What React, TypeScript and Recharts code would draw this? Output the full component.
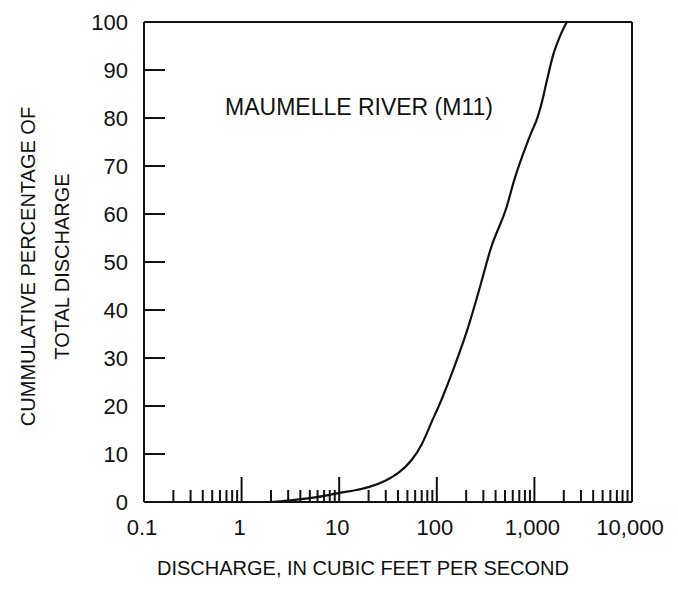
import { LineChart, Line, XAxis, YAxis } from "recharts";

// discharge (cfs) and cumulative percent of total discharge
const discharge = [2, 3, 5, 8, 10, 15, 20, 30, 40, 55, 70, 90, 110, 150, 210, 270, 360, 520, 620, 830, 930, 1050, 1200, 1350, 1550, 1800, 2150];
const cumPercent = [0, 0.3, 0.8, 1.5, 1.9, 2.5, 3.1, 4.5, 6.0, 8.7, 12, 17, 21, 28, 36.5, 44, 53, 61.5, 67, 74.4, 77, 79.5, 83.5, 88, 93, 96.7, 100];

const xMajor = [0.1, 1, 10, 100, 1000, 10000];
const xMinor = [
    0.2, 0.3, 0.4, 0.5, 0.6, 0.7, 0.8, 0.9,
    2, 3, 4, 5, 6, 7, 8, 9,
    20, 30, 40, 50, 60, 70, 80, 90,
    200, 300, 400, 500, 600, 700, 800, 900,
    2000, 3000, 4000, 5000, 6000, 7000, 8000, 9000
];
const xLabels = ["0.1", "1", "10", "100", "1,000", "10,000"];
const yTicks = [0, 10, 20, 30, 40, 50, 60, 70, 80, 90, 100];

const ink = "#111";
const font = "'Liberation Sans', Arial, Helvetica, sans-serif";

const data = discharge.map((q, i) => ({ q, pct: cumPercent[i] }));

const BottomTick = ({ x, y, payload }) => {
    const i = xMajor.indexOf(payload.value);
    const len = i >= 0 ? 25 : 12;
    return (
        <g>
            <line x1={x} y1={y} x2={x} y2={y - len} stroke={ink} strokeWidth={2} />
            {i >= 0 && (
                <text x={x - 2} y={y + 33} textAnchor="middle" fontSize={22} fill={ink} fontFamily={font}>
                    {xLabels[i]}
                </text>
            )}
        </g>
    );
};

const TopTick = ({ x, y, payload }) => {
    const len = xMajor.includes(payload.value) ? 26 : 12;
    return <line x1={x} y1={y} x2={x} y2={y + len} stroke={ink} strokeWidth={2} />;
};

const LeftTick = ({ x, y, payload }) => {
    const v = payload.value;
    return (
        <g>
            {v > 0 && v < 100 && <line x1={x} y1={y} x2={x + 21} y2={y} stroke={ink} strokeWidth={2} />}
            <text x={x - 16} y={y} dy="0.36em" textAnchor="end" fontSize={22} fill={ink} fontFamily={font}>
                {v}
            </text>
        </g>
    );
};

const RightTick = ({ x, y, payload }) => {
    const v = payload.value;
    if (v <= 0 || v >= 100) return <g />;
    return <line x1={x} y1={y} x2={x - 20} y2={y} stroke={ink} strokeWidth={2} />;
};

const App = () => {
    const axisLine = { stroke: ink, strokeWidth: 2 };
    return (
        <div style={{ position: "relative", width: 662, height: 576, fontFamily: font, color: ink }}>
            <LineChart width={662} height={576} data={data} margin={{ top: 4, right: 28, bottom: 22, left: 76 }}>
                <XAxis
                    xAxisId="b"
                    dataKey="q"
                    type="number"
                    scale="log"
                    domain={[0.1, 10000]}
                    allowDataOverflow
                    ticks={[...xMajor, ...xMinor]}
                    interval={0}
                    tickSize={0}
                    tickMargin={0}
                    tickLine={false}
                    tick={BottomTick}
                    axisLine={axisLine}
                    height={60}
                />
                <XAxis
                    xAxisId="t"
                    orientation="top"
                    type="number"
                    scale="log"
                    domain={[0.1, 10000]}
                    allowDataOverflow
                    ticks={[...xMajor, ...xMinor]}
                    interval={0}
                    tickSize={0}
                    tickMargin={0}
                    tickLine={false}
                    tick={TopTick}
                    axisLine={axisLine}
                    height={10}
                />
                <YAxis
                    yAxisId="l"
                    type="number"
                    domain={[0, 100]}
                    ticks={yTicks}
                    interval={0}
                    tickSize={0}
                    tickMargin={0}
                    tickLine={false}
                    tick={LeftTick}
                    axisLine={axisLine}
                    width={60}
                />
                <YAxis
                    yAxisId="r"
                    orientation="right"
                    type="number"
                    domain={[0, 100]}
                    ticks={yTicks}
                    interval={0}
                    tickSize={0}
                    tickMargin={0}
                    tickLine={false}
                    tick={RightTick}
                    axisLine={axisLine}
                    width={10}
                />
                <Line
                    xAxisId="b"
                    yAxisId="l"
                    dataKey="pct"
                    type="monotone"
                    stroke={ink}
                    strokeWidth={2.2}
                    dot={false}
                    isAnimationActive={false}
                />
            </LineChart>

            <div style={{ position: "absolute", left: 151, top: 86, width: 400, textAlign: "center", fontSize: 23 }}>
                MAUMELLE RIVER (M11)
            </div>
            <div style={{ position: "absolute", left: 55, top: 549, width: 600, textAlign: "center", fontSize: 20 }}>
                DISCHARGE, IN CUBIC FEET PER SECOND
            </div>
            <div style={{ position: "absolute", left: -180, top: 247, width: 400, textAlign: "center", fontSize: 20, transform: "rotate(-90deg)" }}>
                CUMMULATIVE PERCENTAGE OF
            </div>
            <div style={{ position: "absolute", left: -146, top: 247, width: 400, textAlign: "center", fontSize: 20, transform: "rotate(-90deg)" }}>
                TOTAL DISCHARGE
            </div>
        </div>
    );
};

export default App;
